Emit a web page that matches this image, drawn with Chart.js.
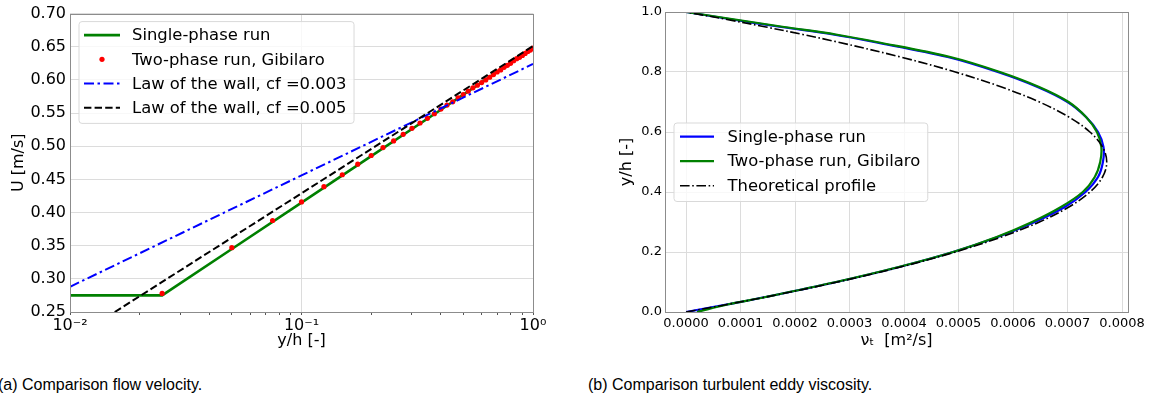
<!DOCTYPE html>
<html><head><meta charset="utf-8">
<script src="https://cdn.jsdelivr.net/npm/chart.js@4.4.0/dist/chart.umd.min.js"></script>
<style>
html,body{margin:0;padding:0;background:#fff;width:1153px;height:403px;overflow:hidden;position:relative}
#c1{position:absolute;left:0;top:0}
#c2{position:absolute;left:580px;top:0}
.cap{position:absolute;top:375px;font-family:"Liberation Sans",Arial,sans-serif;font-size:16px;color:#000;white-space:nowrap;line-height:20px}
</style></head><body>
<canvas id="c1" width="560" height="352"></canvas>
<canvas id="c2" width="573" height="352"></canvas>
<div class="cap" style="left:-2px">(a) Comparison flow velocity.</div>
<div class="cap" style="left:588px">(b) Comparison turbulent eddy viscosity.</div>
<script>
// ---------- Panel (a): flow velocity ----------
const singleYh = [0.01, 0.025, 0.05, 0.1, 0.2, 0.4, 0.7, 1.0];
const singleU  = [0.275, 0.275, 0.345, 0.415, 0.485, 0.555, 0.612, 0.648];

const twoYh = [0.025,0.05,0.075,0.1,0.125,0.15,0.175,0.2,0.225,0.25,0.275,0.3,0.325,0.35,0.375,0.4,0.425,0.45,0.475,0.5,
               0.525,0.55,0.575,0.6,0.625,0.65,0.675,0.7,0.725,0.75,0.775,0.8,0.825,0.85,0.875,0.9,0.925,0.95,0.975,1.0];
const twoU  = [0.278,0.347,0.388,0.416,0.439,0.457,0.473,0.486,0.498,0.508,0.518,0.527,0.535,0.542,0.549,0.556,0.562,0.567,0.573,0.578,
               0.583,0.588,0.592,0.596,0.600,0.604,0.608,0.612,0.615,0.619,0.622,0.625,0.629,0.632,0.634,0.637,0.640,0.643,0.645,0.648];

const lawYh   = [0.01, 0.1, 1.0];
const law003U = [0.288, 0.456, 0.624];
const law005U = [0.207, 0.429, 0.651];

const aXTicks      = [0.01, 0.1, 1];
const aXTickLabels = ['10\u207B\u00B2', '10\u207B\u00B9', '10\u2070'];
const aXMinorTicks = [0.02,0.03,0.04,0.05,0.06,0.07,0.08,0.09,0.2,0.3,0.4,0.5,0.6,0.7,0.8,0.9];
const aYTicks      = [0.25,0.30,0.35,0.40,0.45,0.50,0.55,0.60,0.65,0.70];

// ---------- Panel (b): eddy viscosity ----------
const nuYh     = [0, 0.025, 0.05, 0.1, 0.15, 0.2, 0.25, 0.3, 0.35, 0.4, 0.45, 0.5, 0.55, 0.6, 0.65, 0.7, 0.75, 0.8, 0.85, 0.9, 0.925, 0.95, 0.975, 1.0];
const nuSingle = [0, 0.74e-4, 1.46e-4, 2.76e-4, 3.91e-4, 4.90e-4, 5.72e-4, 6.40e-4, 6.95e-4, 7.33e-4, 7.56e-4, 7.65e-4, 7.66e-4, 7.56e-4, 7.34e-4, 7.00e-4, 6.45e-4, 5.72e-4, 4.80e-4, 3.45e-4, 2.70e-4, 1.75e-4, 0.85e-4, 0];
const nuTwo    = [0.2e-4, 0.76e-4, 1.46e-4, 2.75e-4, 3.90e-4, 4.90e-4, 5.70e-4, 6.35e-4, 6.88e-4, 7.28e-4, 7.50e-4, 7.60e-4, 7.62e-4, 7.54e-4, 7.34e-4, 7.02e-4, 6.48e-4, 5.76e-4, 4.85e-4, 3.50e-4, 2.75e-4, 1.80e-4, 0.90e-4, 0];
const nuTheory = [0, 0.753e-4, 1.467e-4, 2.779e-4, 3.937e-4, 4.941e-4, 5.79e-4, 6.485e-4, 7.025e-4, 7.411e-4, 7.643e-4, 7.72e-4, 7.643e-4, 7.411e-4, 7.025e-4, 6.485e-4, 5.79e-4, 4.941e-4, 3.937e-4, 2.779e-4, 2.143e-4, 1.467e-4, 0.753e-4, 0];

const bXTicks = [0, 0.0001, 0.0002, 0.0003, 0.0004, 0.0005, 0.0006, 0.0007, 0.0008];
const bYTicks = [0, 0.2, 0.4, 0.6, 0.8, 1.0];

// ---------- helpers ----------
const FONT = '"DejaVu Sans", sans-serif';
const GRID = '#dcdcdc';
const SPINE = '#8c8c8c';
const pts = (xs, ys) => xs.map((x, i) => ({x: x, y: ys[i]}));
const ptsXY = (ys, xs) => ys.map((y, i) => ({x: xs[i], y: y}));

const framePlugin = {
  id: 'frame',
  afterDatasetsDraw(chart) {
    const a = chart.chartArea, ctx = chart.ctx;
    ctx.save();
    ctx.strokeStyle = SPINE; ctx.lineWidth = 1;
    ctx.strokeRect(Math.round(a.left) + 0.5, Math.round(a.top) + 0.5, Math.round(a.right - a.left), Math.round(a.bottom - a.top));
    ctx.restore();
  }
};

const boxLegend = {
  id: 'boxLegend',
  afterDraw(chart, args, o) {
    if (!o || !o.items) return;
    const ctx = chart.ctx, a = chart.chartArea;
    const x0 = a.left + o.dx, y0 = a.top + o.dy;
    ctx.save();
    ctx.font = '16.4px ' + FONT;
    let maxW = 0;
    o.items.forEach(i => { maxW = Math.max(maxW, ctx.measureText(chart.data.datasets[i].label).width); });
    const w = o.textX + maxW + 7.5, h = o.items.length * o.rowH + 5;
    const r = 3;
    ctx.beginPath();
    ctx.moveTo(x0 + r, y0); ctx.lineTo(x0 + w - r, y0); ctx.arcTo(x0 + w, y0, x0 + w, y0 + r, r);
    ctx.lineTo(x0 + w, y0 + h - r); ctx.arcTo(x0 + w, y0 + h, x0 + w - r, y0 + h, r);
    ctx.lineTo(x0 + r, y0 + h); ctx.arcTo(x0, y0 + h, x0, y0 + h - r, r);
    ctx.lineTo(x0, y0 + r); ctx.arcTo(x0, y0, x0 + r, y0, r); ctx.closePath();
    ctx.fillStyle = 'rgba(255,255,255,0.8)'; ctx.fill();
    ctx.strokeStyle = '#d9d9d9'; ctx.lineWidth = 1; ctx.stroke();
    o.items.forEach((idx, k) => {
      const ds = chart.data.datasets[idx];
      const yy = y0 + o.firstRow + k * o.rowH;
      if (ds.showLine === false) {
        ctx.beginPath();
        ctx.fillStyle = ds.backgroundColor;
        ctx.arc(x0 + (o.s0 + o.s1) / 2, yy, ds.pointRadius, 0, Math.PI * 2);
        ctx.fill();
      } else {
        ctx.beginPath();
        ctx.setLineDash(ds.borderDash || []);
        ctx.strokeStyle = ds.borderColor; ctx.lineWidth = ds.borderWidth;
        ctx.moveTo(x0 + o.s0, yy); ctx.lineTo(x0 + o.s1, yy); ctx.stroke();
        ctx.setLineDash([]);
      }
      ctx.fillStyle = '#000'; ctx.textBaseline = 'middle'; ctx.textAlign = 'left';
      ctx.fillText(ds.label, x0 + o.textX, yy + 1);
    });
    ctx.restore();
  }
};

// ---------- Chart (a) ----------
new Chart(document.getElementById('c1'), {
  type: 'scatter',
  data: {
    datasets: [
      {label: 'Single-phase run', data: pts(singleYh, singleU), showLine: true, borderColor: '#008000', backgroundColor: '#008000',
       borderWidth: 2.6, pointRadius: 0, order: 4},
      {label: 'Two-phase run, Gibilaro', data: pts(twoYh, twoU), showLine: false, borderColor: '#ff0000', backgroundColor: '#ff0000',
       borderWidth: 0, pointRadius: 2.6, pointHoverRadius: 2.6, order: 3},
      {label: 'Law of the wall, cf =0.003', data: pts(lawYh, law003U), showLine: true, borderColor: '#0000ff', backgroundColor: '#0000ff',
       borderWidth: 2, borderDash: [10, 3.5, 2.5, 3.5], pointRadius: 0, order: 2},
      {label: 'Law of the wall, cf =0.005', data: pts(lawYh, law005U), showLine: true, borderColor: '#000000', backgroundColor: '#000000',
       borderWidth: 2, borderDash: [7.4, 3.2], pointRadius: 0, order: 1}
    ]
  },
  options: {
    responsive: false, animation: false, events: [],
    layout: {padding: {top: 12, right: 27, left: 0, bottom: 0}},
    plugins: {
      legend: {display: false}, tooltip: {enabled: false},
      boxLegend: {items: [0, 1, 2, 3], dx: 9, dy: 8, firstRow: 13.5, rowH: 24.2, s0: 5, s1: 41, textX: 53}
    },
    scales: {
      x: {
        type: 'logarithmic', min: 0.01, max: 1,
        afterBuildTicks: ax => {
          ax.ticks = aXTicks.map(v => ({value: v, major: true}))
            .concat(aXMinorTicks.map(v => ({value: v, major: false})))
            .sort((p, q) => p.value - q.value);
        },
        afterFit: ax => { ax.height = 40; },
        ticks: {
          autoSkip: false, maxRotation: 0, padding: 1, color: '#000',
          font: {family: FONT, size: 16},
          callback: function (v) { const i = aXTicks.indexOf(v); return i >= 0 ? aXTickLabels[i] : ''; }
        },
        grid: {
          color: c => (c.tick && c.tick.major) ? GRID : 'rgba(0,0,0,0)',
          tickColor: '#555', tickLength: 3, drawTicks: true
        },
        border: {display: false},
        title: {display: true, text: 'y/h [-]', color: '#000', font: {family: FONT, size: 16}, padding: {top: 0, bottom: 2}}
      },
      y: {
        min: 0.25, max: 0.70,
        afterBuildTicks: ax => { ax.ticks = aYTicks.map(v => ({value: v})); },
        afterFit: ax => { ax.width = 70; },
        ticks: {color: '#000', padding: 4, font: {family: FONT, size: 16}, callback: v => v.toFixed(2)},
        grid: {color: GRID, drawTicks: false},
        border: {display: false},
        title: {display: true, text: 'U [m/s]', color: '#000', font: {family: FONT, size: 16}, padding: {top: 9, bottom: 0}}
      }
    }
  },
  plugins: [framePlugin, boxLegend]
});

// ---------- Chart (b) ----------
new Chart(document.getElementById('c2'), {
  type: 'scatter',
  data: {
    datasets: [
      {label: 'Single-phase run', data: ptsXY(nuYh, nuSingle), showLine: true, borderColor: '#0000ff', backgroundColor: '#0000ff',
       borderWidth: 2.2, pointRadius: 0, tension: 0.35, order: 3},
      {label: 'Two-phase run, Gibilaro', data: ptsXY(nuYh, nuTwo), showLine: true, borderColor: '#008000', backgroundColor: '#008000',
       borderWidth: 2.2, pointRadius: 0, tension: 0.35, order: 2},
      {label: 'Theoretical profile', data: ptsXY(nuYh, nuTheory), showLine: true, borderColor: '#000000', backgroundColor: '#000000',
       borderWidth: 1.6, borderDash: [9.6, 2.6, 1.6, 2.6], pointRadius: 0, tension: 0.35, order: 1}
    ]
  },
  options: {
    responsive: false, animation: false, events: [],
    layout: {padding: {top: 12, right: 25, left: 0, bottom: 0}},
    plugins: {
      legend: {display: false}, tooltip: {enabled: false},
      boxLegend: {items: [0, 1, 2], dx: 9, dy: 111, firstRow: 13.7, rowH: 24.5, s0: 6, s1: 40, textX: 53.5}
    },
    scales: {
      x: {
        min: -0.0000386, max: 0.000811,
        afterBuildTicks: ax => { ax.ticks = bXTicks.map(v => ({value: v})); },
        afterFit: ax => { ax.height = 40; },
        ticks: {autoSkip: false, maxRotation: 0, padding: 4, color: '#000', font: {family: FONT, size: 13}, callback: v => v.toFixed(4)},
        grid: {color: GRID, drawTicks: false},
        border: {display: false},
        title: {display: true, text: '\u03BD\u209C  [m\u00B2/s]', color: '#000', font: {family: FONT, size: 16}, padding: {top: 0, bottom: 2}}
      },
      y: {
        min: 0, max: 1,
        afterBuildTicks: ax => { ax.ticks = bYTicks.map(v => ({value: v})); },
        afterFit: ax => { ax.width = 85; },
        ticks: {color: '#000', padding: 3, font: {family: FONT, size: 13}, callback: v => v.toFixed(1)},
        grid: {color: GRID, drawTicks: false},
        border: {display: false},
        title: {display: true, text: 'y/h [-]', color: '#000', font: {family: FONT, size: 16}, padding: {top: 37, bottom: 0}}
      }
    }
  },
  plugins: [framePlugin, boxLegend]
});
</script>
</body></html>
